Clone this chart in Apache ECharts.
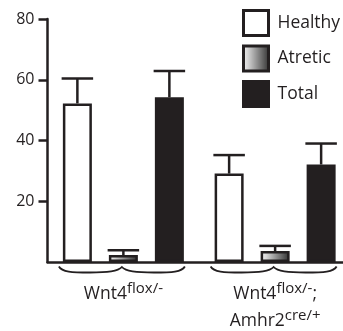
<!DOCTYPE html>
<html>
<head>
<meta charset="utf-8">
<style>
  html, body { margin: 0; padding: 0; background: #fff; }
  #chart { width: 343px; height: 331px; }
</style>
<script src="https://cdn.jsdelivr.net/npm/echarts@6/dist/echarts.min.js"></script>
</head>
<body>
<div id="chart"></div>
<script>
// Genotype groups (rich-text markup gives the superscript alleles)
const categories = [
  '{m|Wnt4}{s|flox/-}',
  '{m|Wnt4}{s|flox/-}{m|;}\n{m|Amhr2}{s|cre/+}'
];
const seriesNames = ['Healthy', 'Atretic', 'Total'];

// Follicle counts (mean) and error (SEM) per genotype
const healthy    = [52.2, 29.1];
const healthyErr = [8.2, 6.1];
const atretic    = [2.3, 3.6];
const atreticErr = [1.6, 1.7];
const total      = [54.2, 32.1];
const totalErr   = [8.7, 6.9];

const yTicks = [20, 40, 60, 80];

const INK = '#231f20';
const FONT = '"Open Sans", "Liberation Sans", sans-serif';
const BAR_W = 29;      // bar body width (px)
const BAR_STEP = 46;   // centre-to-centre distance between bars of one group
const LINE_W = 2.5;

const means = [healthy, atretic, total];
const errs = [healthyErr, atreticErr, totalErr];

const fills = [
  '#ffffff',
  new echarts.graphic.LinearGradient(0, 0, 1, 0, [
    { offset: 0, color: '#f4f4f4' },
    { offset: 0.2, color: '#d6d6d6' },
    { offset: 1, color: '#2e2e2e' }
  ]),
  INK
];

const barSeries = seriesNames.map((name, i) => ({
  name,
  type: 'bar',
  data: means[i],
  barWidth: BAR_W,
  barGap: ((BAR_STEP - BAR_W) / BAR_W * 100).toFixed(2) + '%',
  itemStyle: { color: fills[i], borderColor: INK, borderWidth: LINE_W },
  z: 3
}));

// Error bars: stem from the bar top up to mean + SEM, capped at bar width
const errorSeries = seriesNames.map((name, i) => ({
  type: 'custom',
  silent: true,
  clip: false,
  z: 2,
  data: means[i].map((m, k) => [k, m, errs[i][k]]),
  renderItem(params, api) {
    const k = api.value(0);
    const mean = api.value(1);
    const err = api.value(2);
    const x = api.coord([k, 0])[0] + (i - 1) * BAR_STEP;
    const yBar = api.coord([k, mean])[1];
    const yTop = api.coord([k, mean + err])[1];
    const half = (BAR_W + LINE_W) / 2;
    const style = { stroke: INK, lineWidth: LINE_W, fill: null };
    return {
      type: 'group',
      children: [
        { type: 'line', shape: { x1: x, y1: yBar, x2: x, y2: yTop }, style },
        { type: 'line', shape: { x1: x - half, y1: yTop, x2: x + half, y2: yTop }, style }
      ]
    };
  }
}));

// Curly brace under each genotype group
const braceSeries = {
  type: 'custom',
  silent: true,
  clip: false,
  z: 2,
  data: categories.map((c, k) => [k, 0]),
  renderItem(params, api) {
    const p = api.coord([api.value(0), 0]);
    const cx = p[0] - 1.5, y = p[1];
    const h = 63;
    const d =
      `M${cx - h},${y + 4.5}` +
      `C${cx - 60},${y + 10} ${cx - 50},${y + 10.5} ${cx - 32},${y + 10.5}` +
      `C${cx - 14},${y + 10.5} ${cx - 4},${y + 9.5} ${cx},${y + 5}` +
      `C${cx + 4},${y + 9.5} ${cx + 14},${y + 10.5} ${cx + 32},${y + 10.5}` +
      `C${cx + 50},${y + 10.5} ${cx + 60},${y + 10} ${cx + h},${y + 4.5}`;
    return {
      type: 'path',
      shape: { pathData: d },
      style: { fill: null, stroke: INK, lineWidth: 1.8 }
    };
  }
};

const chart = echarts.init(document.getElementById('chart'), null, { renderer: 'canvas' });
chart.setOption({
  animation: false,
  backgroundColor: '#fff',
  textStyle: { fontFamily: FONT, color: INK },
  grid: { left: 47.5, right: -8, top: 19, bottom: 69, containLabel: false, outerBoundsMode: 'none' },
  legend: {
    data: seriesNames,
    orient: 'vertical',
    left: 242,
    top: 9,
    padding: 0,
    itemWidth: 25,
    itemHeight: 25,
    itemGap: 7.5,
    icon: 'rect',
    selectedMode: false,
    itemStyle: { borderColor: INK, borderWidth: 3 },
    textStyle: { fontFamily: FONT, fontSize: 17.5, color: INK, padding: [0, 0, 0, 4] }
  },
  xAxis: {
    type: 'category',
    data: categories,
    axisLine: { lineStyle: { color: INK, width: LINE_W } },
    axisTick: { show: false },
    axisLabel: {
      interval: 0,
      margin: 19,
      color: INK,
      fontFamily: FONT,
      rich: {
        m: { fontSize: 17.5, lineHeight: 27, color: INK, fontFamily: FONT },
        s: { fontSize: 15, lineHeight: 19, verticalAlign: 'top', color: INK, fontFamily: FONT }
      }
    },
    splitLine: { show: false }
  },
  yAxis: {
    type: 'value',
    min: 0,
    max: 80,
    interval: 20,
    axisLine: { show: true, lineStyle: { color: INK, width: LINE_W } },
    axisTick: { show: true, inside: false, length: 9, customValues: yTicks, lineStyle: { color: INK, width: LINE_W } },
    axisLabel: { customValues: yTicks, fontSize: 16, color: INK, fontFamily: FONT, margin: 13 },
    splitLine: { show: false }
  },
  series: [...barSeries, ...errorSeries, braceSeries]
});
</script>
</body>
</html>
